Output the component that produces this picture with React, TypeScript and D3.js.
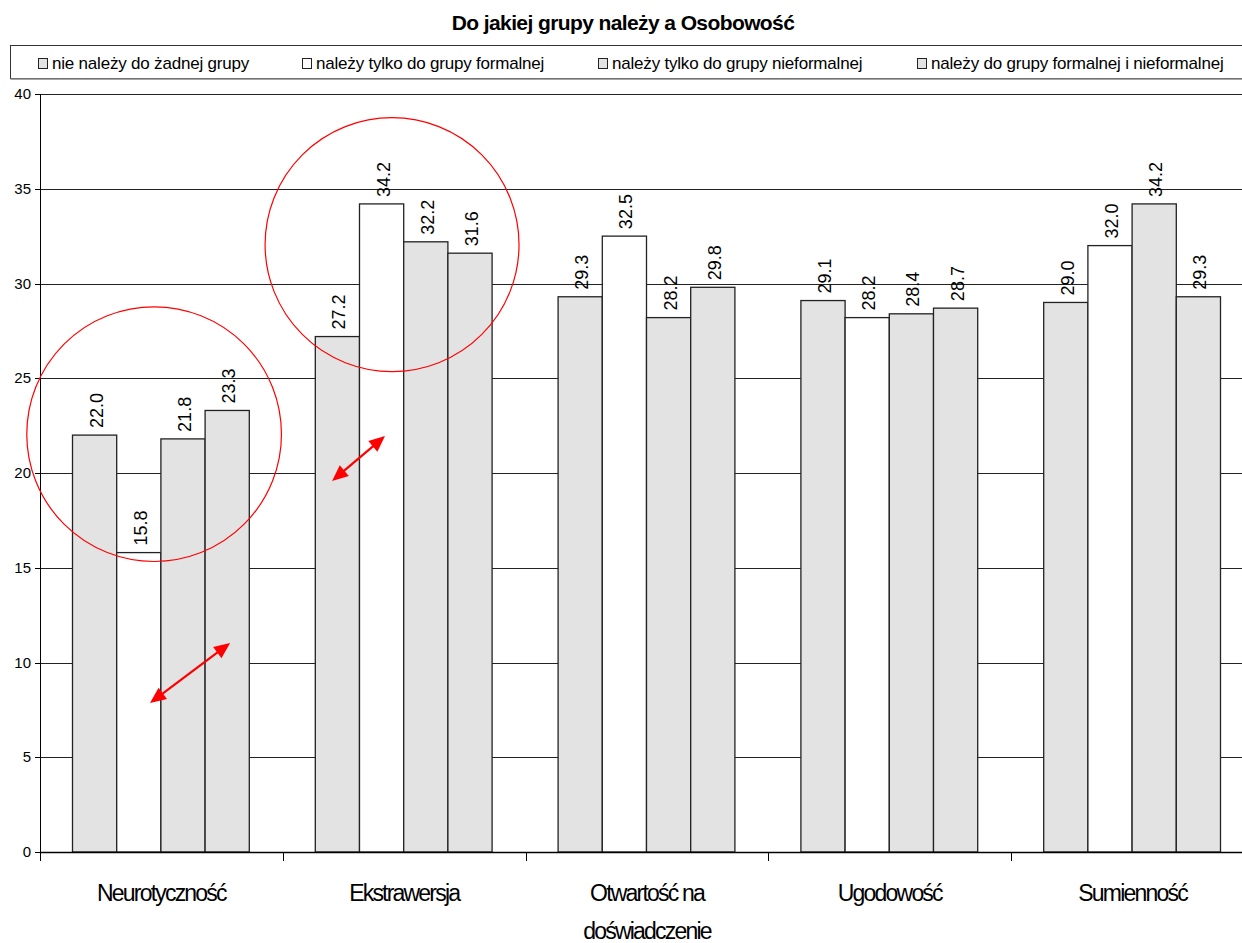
import React from "react";
import * as d3 from "d3";

const title = "Do jakiej grupy należy a Osobowość";
const categories = ["Neurotyczność", "Ekstrawersja", "Otwartość na\ndoświadczenie", "Ugodowość", "Sumienność"];
const seriesNames = [
  "nie należy do żadnej grupy",
  "należy tylko do grupy formalnej",
  "należy tylko do grupy nieformalnej",
  "należy do grupy formalnej i nieformalnej",
];
const seriesColors = ["#e3e3e3", "#ffffff", "#e3e3e3", "#e3e3e3"];
const s1 = [22.0, 27.2, 29.3, 29.1, 29.0];
const s2 = [15.8, 34.2, 32.5, 28.2, 32.0];
const s3 = [21.8, 32.2, 28.2, 28.4, 34.2];
const s4 = [23.3, 31.6, 29.8, 28.7, 29.3];
const seriesValues = [s1, s2, s3, s4];
const yTicks = [0, 5, 10, 15, 20, 25, 30, 35, 40];

// annotations in data coordinates: group position (fractional index), value
const circles = [
  { g: 0.47, v: 22.05, r: 6.72 },
  { g: 1.45, v: 32.05, r: 6.7 },
];
const arrows = [
  { g1: 0.453, v1: 7.86, g2: 0.783, v2: 11.03 },
  { g1: 1.203, v1: 19.58, g2: 1.421, v2: 21.95 },
];

const W = 1242;
const H = 943;
const left = 40;
const right = 1254;
const top = 94;
const bottom = 852;

export default function App() {
  const x0 = d3.scaleBand<number>().domain(d3.range(categories.length)).range([left, right]).paddingInner(0).paddingOuter(0);
  const gw = x0.bandwidth();
  const x1 = d3.scaleBand<number>().domain(d3.range(4)).range([32, gw - 34]).padding(0);
  const gpos = d3.scaleLinear().domain([0, categories.length]).range([left, right]);
  const y = d3.scaleLinear().domain([0, 40]).range([bottom, top]);
  const font = "'Liberation Sans', Arial, sans-serif";
  const legendX = [38, 302, 598, 917];

  const arrowHead = (xa: number, ya: number, xb: number, yb: number) => {
    const ang = Math.atan2(yb - ya, xb - xa);
    const L = 16, Wd = 7;
    const bx = xb - L * Math.cos(ang), by = yb - L * Math.sin(ang);
    const px = -Math.sin(ang) * Wd, py = Math.cos(ang) * Wd;
    return `M${xb},${yb}L${bx + px},${by + py}L${bx - px},${by - py}Z`;
  };

  return (
    <svg width={W} height={H} style={{ position: "absolute", left: 0, top: 0, background: "#fff" }} fontFamily={font}>
      <rect x={0} y={0} width={W} height={H} fill="#fff" />
      <text x={623} y={30} textAnchor="middle" fontSize={21} fontWeight="bold" letterSpacing={-0.6}>
        {title}
      </text>
      {/* legend */}
      <rect x={10.5} y={45.5} width={1250} height={33} fill="#fff" stroke="#333" strokeWidth={1} />
      <line x1={10.5} x2={1250} y1={79} y2={79} stroke="#888" strokeWidth={1.5} />
      {seriesNames.map((n, i) => (
        <g key={i}>
          <rect x={legendX[i] + 0.5} y={58.5} width={9} height={10} fill={seriesColors[i]} stroke="#222" strokeWidth={1} />
          <text x={legendX[i] + 14} y={69} fontSize={17} letterSpacing={-0.2}>
            {n}
          </text>
        </g>
      ))}
      {/* gridlines */}
      {yTicks.filter((t) => t > 0).map((t) => (
        <line key={t} x1={left} x2={right} y1={Math.round(y(t)) + 0.5} y2={Math.round(y(t)) + 0.5} stroke="#222" strokeWidth={1} />
      ))}
      {/* bars */}
      {categories.map((c, gi) => (
        <g key={gi} transform={`translate(${x0(gi)},0)`}>
          {seriesValues.map((vals, si) => (
            <rect
              key={si}
              x={(x1(si) as number) + 0.5}
              y={y(vals[gi])}
              width={x1.bandwidth()}
              height={y(0) - y(vals[gi])}
              fill={seriesColors[si]}
              stroke="#222"
              strokeWidth={1.3}
            />
          ))}
          {seriesValues.map((vals, si) => {
            const cx = (x1(si) as number) + x1.bandwidth() / 2 + 0.5;
            const cy = y(vals[gi]) - 7;
            return (
              <text key={"l" + si} transform={`translate(${cx + 8},${cy}) rotate(-90)`} fontSize={18}>
                {vals[gi].toFixed(1)}
              </text>
            );
          })}
        </g>
      ))}
      {/* axes */}
      <line x1={left + 0.5} x2={left + 0.5} y1={top} y2={bottom + 8} stroke="#000" strokeWidth={1} />
      <line x1={left} x2={right} y1={bottom + 0.5} y2={bottom + 0.5} stroke="#000" strokeWidth={1.3} />
      {yTicks.map((t) => (
        <g key={t}>
          <line x1={left - 5} x2={left} y1={Math.round(y(t)) + 0.5} y2={Math.round(y(t)) + 0.5} stroke="#000" />
          <text x={left - 9} y={y(t) + 5} textAnchor="end" fontSize={15}>
            {t}
          </text>
        </g>
      ))}
      {d3.range(categories.length + 1).map((i) => (
        <line key={i} x1={Math.round(gpos(i)) + 0.5} x2={Math.round(gpos(i)) + 0.5} y1={bottom} y2={bottom + 9} stroke="#000" />
      ))}
      {categories.map((c, gi) => {
        const lines = c.split("\n");
        return (
          <text key={gi} x={(x0(gi) as number) + gw / 2} y={901} textAnchor="middle" fontSize={23} letterSpacing={-1.8}>
            {lines.map((ln, k) => (
              <tspan key={k} x={(x0(gi) as number) + gw / 2} dy={k === 0 ? 0 : 38}>
                {ln}
              </tspan>
            ))}
          </text>
        );
      })}
      {/* annotations */}
      {circles.map((c, i) => (
        <circle key={i} cx={gpos(c.g)} cy={y(c.v)} r={y(0) - y(c.r)} fill="none" stroke="#ff0000" strokeWidth={1.2} />
      ))}
      {arrows.map((a, i) => {
        const xa = gpos(a.g1), ya = y(a.v1), xb = gpos(a.g2), yb = y(a.v2);
        const ang = Math.atan2(yb - ya, xb - xa);
        const off = 12;
        return (
          <g key={i}>
            <line
              x1={xa + off * Math.cos(ang)}
              y1={ya + off * Math.sin(ang)}
              x2={xb - off * Math.cos(ang)}
              y2={yb - off * Math.sin(ang)}
              stroke="#ff0000"
              strokeWidth={2.2}
            />
            <path d={arrowHead(xa, ya, xb, yb)} fill="#ff0000" />
            <path d={arrowHead(xb, yb, xa, ya)} fill="#ff0000" />
          </g>
        );
      })}
    </svg>
  );
}
